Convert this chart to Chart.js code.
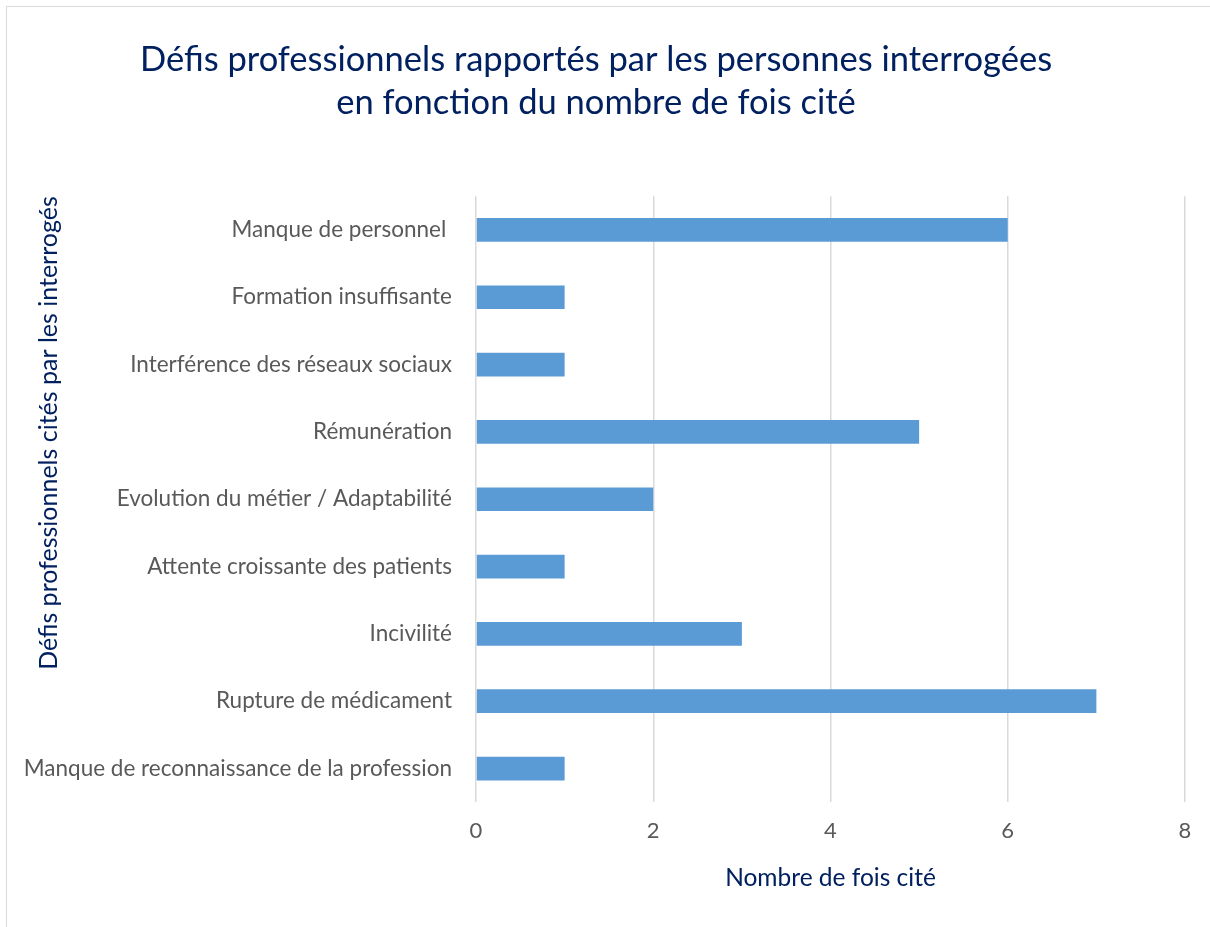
<!DOCTYPE html>
<html>
<head>
<meta charset="utf-8">
<script src="https://cdn.jsdelivr.net/npm/chart.js@4.4.1/dist/chart.umd.min.js"></script>
<style>
  html, body { margin: 0; padding: 0; background: #fff; overflow: hidden; }
  .frame { position: absolute; left: 6px; top: 6px; width: 1206px; height: 930px; border: 1px solid #d9d9d9; }
  canvas { display: block; }
</style>
</head>
<body>
<div class="frame">
  <canvas id="chart" width="1206" height="930"></canvas>
</div>
<script>
// data
const categories = [
  'Manque de personnel ',
  'Formation insuffisante',
  'Interférence des réseaux sociaux',
  'Rémunération',
  'Evolution du métier / Adaptabilité',
  'Attente croissante des patients',
  'Incivilité',
  'Rupture de médicament',
  'Manque de reconnaissance de la profession'
];
const counts = [6, 1, 1, 5, 2, 1, 3, 7, 1];
const xTicks = [0, 2, 4, 6, 8];

const chartTitle = ['Défis professionnels rapportés par les personnes interrogées', 'en fonction du nombre de fois cité'];
const xTitle = 'Nombre de fois cité';
const yTitle = 'Défis professionnels cités par les interrogés';

const FONT = 'Lato, "Open Sans", sans-serif';
const navy = '#002060';
const grey = '#595959';

const ctx = document.getElementById('chart').getContext('2d');
new Chart(ctx, {
  type: 'bar',
  data: {
    labels: categories,
    datasets: [{
      label: 'Nombre de fois cité',
      data: counts,
      backgroundColor: '#5b9bd5',
      borderWidth: 0,
      categoryPercentage: 0.8,
      barPercentage: 0.44
    }]
  },
  options: {
    indexAxis: 'y',
    responsive: false,
    animation: false,
    layout: { padding: { left: 0, right: 28, top: 0, bottom: 44 } },
    plugins: {
      legend: { display: false },
      tooltip: { enabled: false },
      title: {
        display: true,
        text: chartTitle,
        color: navy,
        font: { family: FONT, size: 34.5, weight: 'normal', lineHeight: 1.25 },
        padding: { top: 31, bottom: 72 }
      }
    },
    scales: {
      x: {
        min: 0,
        max: 8,
        afterBuildTicks: (scale) => { scale.ticks = xTicks.map(v => ({ value: v })); },
        grid: { color: '#d9d9d9', lineWidth: 1.5, drawTicks: false },
        border: { display: false },
        ticks: { color: grey, padding: 16, font: { family: FONT, size: 22 } },
        title: {
          display: true,
          text: xTitle,
          color: navy,
          font: { family: FONT, size: 24.5 },
          padding: { top: 3, bottom: 0 }
        }
      },
      y: {
        grid: { display: false, drawTicks: false },
        border: { display: false },
        ticks: { color: grey, padding: 24, font: { family: FONT, size: 22.5 } },
        title: {
          display: true,
          text: yTitle,
          align: 'end',
          color: navy,
          font: { family: FONT, size: 25 },
          padding: { top: 27, bottom: 0 }
        },
        afterFit: (scale) => { scale.width = 469; }
      }
    }
  }
});
</script>
</body>
</html>
